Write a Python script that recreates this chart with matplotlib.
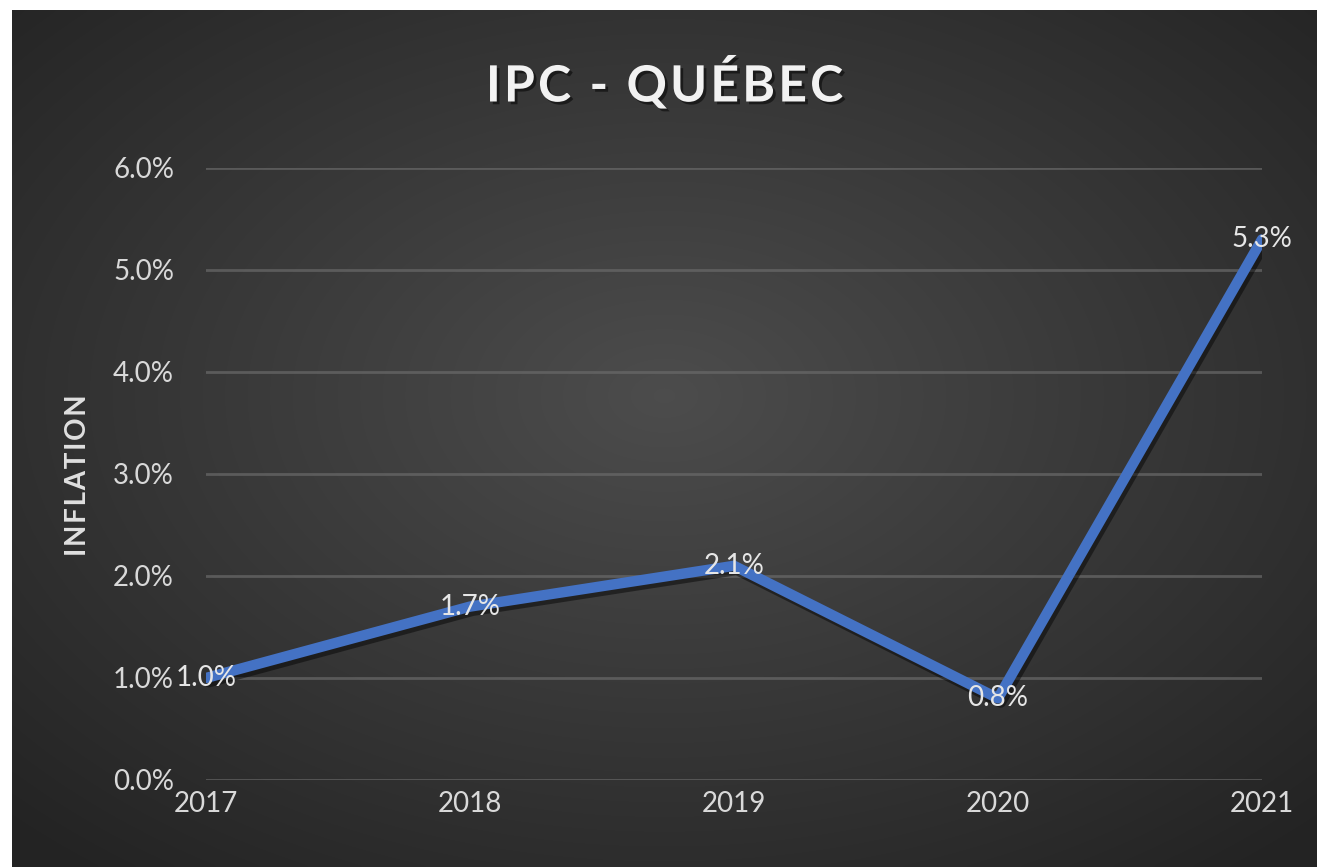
import numpy as np
import matplotlib.pyplot as plt
import matplotlib.patheffects as pe

# data
years = ["2017", "2018", "2019", "2020", "2021"]
inflation = [1.0, 1.7, 2.1, 0.8, 5.3]
yticks = [0, 1, 2, 3, 4, 5, 6]
title = "IPC - QUÉBEC"
ylabel = "INFLATION"

plt.rcParams['font.family'] = ['Lato', 'DejaVu Sans']


def spaced(s):
    # small letter spacing, like the original chart
    return "\u200a".join(s)


W, H = 1317, 867
fig = plt.figure(figsize=(W / 100, H / 100), dpi=100)
fig.patch.set_facecolor("white")

# dark radial gradient background (white margin top/left)
bg = fig.add_axes([12 / W, 0, 1 - 12 / W, 1 - 10 / H])
bg.set_axis_off()
yy, xx = np.mgrid[0:1:300j, 0:1:450j]
r = np.sqrt(((xx - 0.5) / 0.75) ** 2 + ((yy - 0.45) / 0.75) ** 2)
shade = np.clip(0.30 - 0.17 * r, 0.14, 0.30)
bg.imshow(np.dstack([shade] * 3), aspect="auto", extent=[0, 1, 0, 1], interpolation="bicubic")

ax = fig.add_axes([206 / W, 1 - 780 / H, (1262 - 206) / W, (780 - 168) / H])
ax.patch.set_alpha(0)
x = np.arange(len(years))

ax.plot(x, inflation, color="#4472C4", lw=7.5, solid_capstyle="round", zorder=3,
        path_effects=[pe.SimpleLineShadow(offset=(2, -3), shadow_color="black", alpha=0.45),
                      pe.Normal()])

for xi, v in zip(x, inflation):
    ax.text(xi, v, f"{v:.1f}%", ha="center", va="center", fontsize=20,
            color="#e6e6e6", zorder=4)

ax.set_xlim(0, len(years) - 1)
ax.set_ylim(0, 6)
ax.set_xticks(x)
ax.set_xticklabels(years)
ax.set_yticks(yticks)
ax.set_yticklabels([f"{t:.1f}%" for t in yticks])
ax.tick_params(length=0, labelsize=20, labelcolor="#d9d9d9")
ax.tick_params(axis="y", pad=23)
ax.tick_params(axis="x", pad=8)
ax.grid(axis="y", color="#6a6a6a", lw=2, alpha=0.7)
ax.set_axisbelow(True)
for s in ax.spines.values():
    s.set_visible(False)

fig.text(78 / W, 1 - 475 / H, spaced(ylabel), rotation=90, ha="center", va="center",
         fontsize=20, fontweight="bold", color="#e0e0e0")

fig.text(0.5 + 12 / W / 2, 1 - 83 / H, spaced(title),
         ha="center", va="center", fontsize=36, fontweight="bold", color="#f2f2f2",
         path_effects=[pe.withSimplePatchShadow(offset=(2, -2), shadow_rgbFace="black", alpha=0.5)])

fig.savefig("out.png", dpi=100, facecolor=fig.get_facecolor())
